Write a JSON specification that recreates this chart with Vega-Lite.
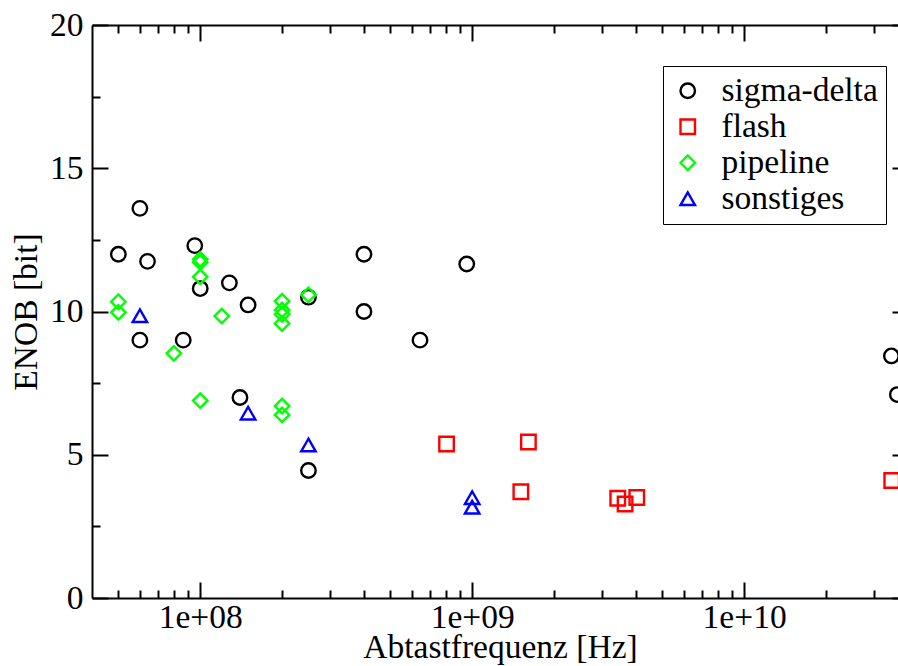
{
  "$schema": "https://vega.github.io/schema/vega-lite/v6.json",
  "width": 806,
  "height": 573,
  "autosize": {"type": "none"},
  "padding": {"left": 92, "top": 25, "right": 0, "bottom": 68},
  "background": "white",
  "config": {
    "view": {"stroke": null},
    "font": "Liberation Serif",
    "axis": {
      "domainColor": "black",
      "domainWidth": 2,
      "tickColor": "black",
      "tickWidth": 2,
      "grid": false,
      "labelFont": "Liberation Serif",
      "labelFontSize": 33.5,
      "labelColor": "black",
      "titleFont": "Liberation Serif",
      "titleFontSize": 33.5,
      "titleFontWeight": "normal",
      "titleColor": "black"
    },
    "legend": {
      "labelFont": "Liberation Serif",
      "labelFontSize": 33.5,
      "labelColor": "black"
    }
  },
  "data": {
    "values": [
      {"f": 5.0e7, "enob": 12.0, "typ": "sigma-delta"},
      {"f": 6.0e7, "enob": 13.6, "typ": "sigma-delta"},
      {"f": 6.4e7, "enob": 11.75, "typ": "sigma-delta"},
      {"f": 6.0e7, "enob": 9.0, "typ": "sigma-delta"},
      {"f": 8.66e7, "enob": 9.0, "typ": "sigma-delta"},
      {"f": 9.55e7, "enob": 12.3, "typ": "sigma-delta"},
      {"f": 1.0e8, "enob": 10.8, "typ": "sigma-delta"},
      {"f": 1.28e8, "enob": 11.0, "typ": "sigma-delta"},
      {"f": 1.4e8, "enob": 7.0, "typ": "sigma-delta"},
      {"f": 1.5e8, "enob": 10.23, "typ": "sigma-delta"},
      {"f": 2.5e8, "enob": 10.5, "typ": "sigma-delta"},
      {"f": 2.5e8, "enob": 4.45, "typ": "sigma-delta"},
      {"f": 4.0e8, "enob": 12.0, "typ": "sigma-delta"},
      {"f": 4.0e8, "enob": 10.0, "typ": "sigma-delta"},
      {"f": 6.43e8, "enob": 9.0, "typ": "sigma-delta"},
      {"f": 9.55e8, "enob": 11.66, "typ": "sigma-delta"},
      {"f": 3.48e10, "enob": 8.45, "typ": "sigma-delta"},
      {"f": 3.66e10, "enob": 7.1, "typ": "sigma-delta"},
      {"f": 8.05e8, "enob": 5.375, "typ": "flash"},
      {"f": 1.61e9, "enob": 5.445, "typ": "flash"},
      {"f": 1.51e9, "enob": 3.71, "typ": "flash"},
      {"f": 3.43e9, "enob": 3.48, "typ": "flash"},
      {"f": 3.65e9, "enob": 3.28, "typ": "flash"},
      {"f": 4.03e9, "enob": 3.51, "typ": "flash"},
      {"f": 3.49e10, "enob": 4.1, "typ": "flash"},
      {"f": 5.0e7, "enob": 10.34, "typ": "pipeline"},
      {"f": 5.0e7, "enob": 9.97, "typ": "pipeline"},
      {"f": 8.0e7, "enob": 8.54, "typ": "pipeline"},
      {"f": 1.0e8, "enob": 11.82, "typ": "pipeline"},
      {"f": 1.0e8, "enob": 11.72, "typ": "pipeline"},
      {"f": 1.0e8, "enob": 11.21, "typ": "pipeline"},
      {"f": 1.0e8, "enob": 6.89, "typ": "pipeline"},
      {"f": 1.2e8, "enob": 9.84, "typ": "pipeline"},
      {"f": 2.0e8, "enob": 10.36, "typ": "pipeline"},
      {"f": 2.0e8, "enob": 10.05, "typ": "pipeline"},
      {"f": 2.0e8, "enob": 9.9, "typ": "pipeline"},
      {"f": 2.0e8, "enob": 9.58, "typ": "pipeline"},
      {"f": 2.0e8, "enob": 6.7, "typ": "pipeline"},
      {"f": 2.0e8, "enob": 6.39, "typ": "pipeline"},
      {"f": 2.5e8, "enob": 10.58, "typ": "pipeline"},
      {"f": 6.0e7, "enob": 9.85, "typ": "sonstiges"},
      {"f": 1.5e8, "enob": 6.45, "typ": "sonstiges"},
      {"f": 2.5e8, "enob": 5.34, "typ": "sonstiges"},
      {"f": 1.0e9, "enob": 3.5, "typ": "sonstiges"},
      {"f": 1.0e9, "enob": 3.17, "typ": "sonstiges"}
    ]
  },
  "resolve": {"axis": {"x": "independent", "y": "independent"}},
  "layer": [
    {
      "mark": {"type": "point", "filled": false, "strokeWidth": 2.4, "opacity": 1, "clip": true},
      "encoding": {
        "x": {
          "field": "f", "type": "quantitative",
          "scale": {"type": "log", "domain": [4.0e7, 3.68e10], "nice": false},
          "axis": {
            "orient": "bottom",
            "values": [1e8, 1e9, 1e10],
            "labelExpr": "datum.value == 1e8 ? '1e+08' : datum.value == 1e9 ? '1e+09' : '1e+10'",
            "tickSize": -16,
            "labelPadding": 19,
            "labelBaseline": "top",
            "title": "Abtastfrequenz [Hz]",
            "titleX": 408,
            "titlePadding": -2
          }
        },
        "y": {
          "field": "enob", "type": "quantitative",
          "scale": {"domain": [0, 20], "nice": false, "zero": true},
          "axis": {
            "orient": "left",
            "values": [0, 5, 10, 15, 20],
            "tickSize": -16,
            "labelPadding": 25,
            "title": "ENOB [bit]",
            "titlePadding": 6
          }
        },
        "color": {
          "field": "typ", "type": "nominal",
          "scale": {"domain": ["sigma-delta", "flash", "pipeline", "sonstiges"], "range": ["#000000", "#ff0000", "#00ff00", "#0000ff"]},
          "legend": {
            "title": null,
            "orient": "none",
            "legendX": 571,
            "legendY": 41,
            "strokeColor": "black",
            "fillColor": "white",
            "padding": 8,
            "symbolOffset": 0,
            "symbolSize": 200,
            "symbolStrokeWidth": 2.4,
            "labelOffset": 17,
            "rowPadding": 1
          }
        },
        "shape": {
          "field": "typ", "type": "nominal",
          "scale": {"domain": ["sigma-delta", "flash", "pipeline", "sonstiges"], "range": ["circle", "square", "diamond", "triangle-up"]},
          "legend": null
        },
        "size": {
          "field": "typ", "type": "ordinal",
          "scale": {"domain": ["sigma-delta", "flash", "pipeline", "sonstiges"], "range": [210, 210, 260, 280]},
          "legend": null
        }
      }
    },
    {
      "mark": {"type": "point", "opacity": 0},
      "encoding": {
        "x": {
          "field": "f", "type": "quantitative",
          "axis": {
            "orient": "bottom",
            "values": [5e7, 6e7, 7e7, 8e7, 9e7, 2e8, 3e8, 4e8, 5e8, 6e8, 7e8, 8e8, 9e8, 2e9, 3e9, 4e9, 5e9, 6e9, 7e9, 8e9, 9e9, 2e10, 3e10],
            "tickSize": -8,
            "labels": false,
            "domain": false,
            "title": null
          }
        },
        "y": {
          "field": "enob", "type": "quantitative",
          "axis": {
            "orient": "left",
            "values": [2.5, 7.5, 12.5, 17.5],
            "tickSize": -8,
            "labels": false,
            "domain": false,
            "title": null
          }
        }
      }
    },
    {
      "mark": {"type": "point", "opacity": 0},
      "encoding": {
        "x": {
          "field": "f", "type": "quantitative",
          "axis": {
            "orient": "top",
            "values": [1e8, 1e9, 1e10],
            "tickSize": -16,
            "labels": false,
            "domain": true,
            "title": null
          }
        },
        "y": {
          "field": "enob", "type": "quantitative",
          "axis": {
            "orient": "right",
            "values": [0, 5, 10, 15, 20],
            "tickSize": -6,
            "labels": false,
            "domain": false,
            "title": null
          }
        }
      }
    },
    {
      "mark": {"type": "point", "opacity": 0},
      "encoding": {
        "x": {
          "field": "f", "type": "quantitative",
          "axis": {
            "orient": "top",
            "values": [5e7, 6e7, 7e7, 8e7, 9e7, 2e8, 3e8, 4e8, 5e8, 6e8, 7e8, 8e8, 9e8, 2e9, 3e9, 4e9, 5e9, 6e9, 7e9, 8e9, 9e9, 2e10, 3e10],
            "tickSize": -8,
            "labels": false,
            "domain": false,
            "title": null
          }
        },
        "y": {
          "field": "enob", "type": "quantitative",
          "axis": null
        }
      }
    }
  ]
}
